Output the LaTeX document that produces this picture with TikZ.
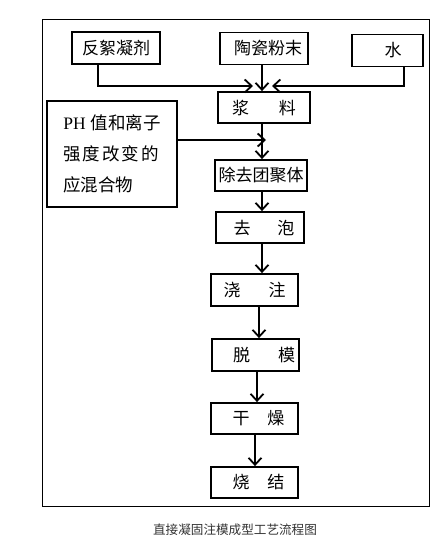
\documentclass[tikz,border=0pt]{standalone}
\usepackage{fontspec}
\setmainfont{Liberation Serif}
\newfontfamily\cjk{Noto Sans CJK SC}
\usetikzlibrary{arrows.meta}
\begin{document}
\begin{tikzpicture}[x=1pt,y=-1pt,
  box/.style={draw, line width=1.8pt, inner sep=0pt, font=\cjk\fontsize{17}{20}\selectfont},
  arr/.style={line width=1.6pt, -{Straight Barb[length=7pt,width=13pt,line width=1.8pt]}},
  ln/.style={line width=1.6pt}]
\useasboundingbox (0,0) rectangle (444,554);
\draw[line width=0.9pt] (42,19) rectangle (429,506);
\node[box, minimum width=88pt, minimum height=32pt] (fan) at (116,48) {反絮凝剂};
\node[box, minimum width=88pt, minimum height=32pt] (tao) at (264,48.5) {\hspace{8pt}陶瓷粉末};
\node[box, minimum width=71pt, minimum height=32pt] (shui) at (387.5,50.5) {\hspace{11pt}水};
\node[box, minimum width=92pt, minimum height=31pt] (jiang) at (264,107.5) {浆\hspace{30pt}料};
\node[box, minimum width=130pt, minimum height=106pt, align=left, font=\cjk\fontsize{17.5}{31}\selectfont] (ph) at (112,154) {{\rmfamily PH}\hspace{5pt}值和离子\\强\hspace{2pt}度\hspace{2pt}改\hspace{2pt}变\hspace{2pt}的\\应混合物};
\node[box, minimum width=92pt, minimum height=31pt] (chu) at (261,175.5) {除去团聚体};
\node[box, minimum width=88pt, minimum height=31pt] (qu) at (260,227.5) {\hspace{8pt}去\hspace{27pt}泡};
\node[box, minimum width=87pt, minimum height=32pt] (jiao) at (254.5,290) {浇\hspace{28pt}注};
\node[box, minimum width=87pt, minimum height=32pt] (tuo) at (255.5,355) {\hspace{17pt}脱\hspace{28pt}模};
\node[box, minimum width=87pt, minimum height=31pt] (gan) at (254.5,418.5) {\hspace{8pt}干\hspace{18pt}燥};
\node[box, minimum width=87pt, minimum height=31pt] (shao) at (254.5,482.5) {\hspace{8pt}烧\hspace{18pt}结};
\node[font=\cjk\fontsize{12.6}{14}\selectfont, text=black!80, inner sep=0pt] (cap) at (235,530) {直接凝固注模成型工艺流程图};
\coordinate (mL) at (253,86);
\coordinate (mR) at (272,86);
\coordinate (mP) at (266,140);
\draw[arr] (fan.south -| 98,0) |- (mL);
\draw[arr] (shui.south -| 404,0) |- (mR);
\draw[arr] (tao.south -| 262,0) -- (jiang.north -| 262,0);
\draw[arr] (jiang.south -| 262,0) -- (chu.north -| 262,0);
\draw[arr] (ph.east |- mP) -- (mP);
\draw[arr] (chu.south -| 262,0) -- (qu.north -| 262,0);
\draw[arr] (qu.south -| 262,0) -- (jiao.north -| 262,0);
\draw[arr] (jiao.south -| 259,0) -- (tuo.north -| 259,0);
\draw[arr] (tuo.south -| 257,0) -- (gan.north -| 257,0);
\draw[arr] (gan.south -| 255,0) -- (shao.north -| 255,0);
\end{tikzpicture}
\end{document}
